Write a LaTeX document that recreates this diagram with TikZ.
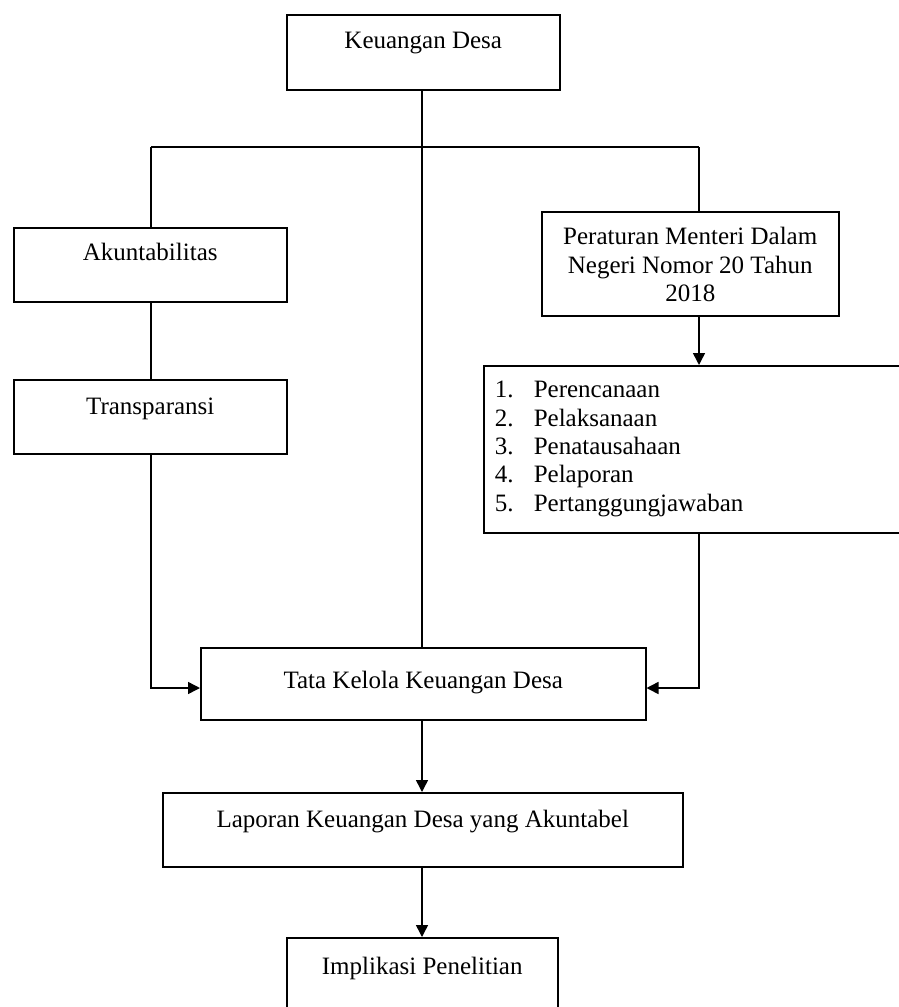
\documentclass[tikz,border=0pt]{standalone}
\usepackage{fontspec}
\setmainfont{Liberation Serif}
\usetikzlibrary{arrows.meta}
\newcommand{\boxtxt}[4]{\parbox[c][#2][t]{#1}{\centering\rule{0pt}{#3}#4}}
\newcommand{\itm}[2]{\hspace*{5.5pt}\makebox[19.5pt][l]{#1}#2}
\begin{document}
\begin{tikzpicture}[x=0.5pt,y=-0.5pt,
  box/.style={draw=black, line width=0.75pt, inner sep=0pt, anchor=north west,
    font=\fontsize{12.5}{14.2}\selectfont},
  conn/.style={draw=black, line width=0.75pt},
  arr/.style={conn, -{Triangle[length=6pt,width=6pt]}}]
\useasboundingbox (0,0) rectangle (899,1007);
\clip (0,0) rectangle (899,1007);
\fill[white] (0,0) rectangle (899,1007);
% boxes
\node[box] (kd) at (286,14) {\boxtxt{136.5pt}{37.5pt}{17pt}{Keuangan Desa}};
\node[box] (akun) at (13,227) {\boxtxt{136.5pt}{37pt}{16.5pt}{Akuntabilitas}};
\node[box] (trans) at (13,379) {\boxtxt{136.5pt}{37pt}{17.5pt}{Transparansi}};
\node[box] (per) at (541,211) {\boxtxt{148.5pt}{52pt}{16.5pt}{Peraturan Menteri Dalam\\Negeri Nomor 20 Tahun\\2018}};
\node[box] (list) at (483,365) {\parbox[c][83.5pt][t]{228.5pt}{\raggedright\rule{0pt}{16pt}%
  \itm{1.}{Perencanaan}\\
  \itm{2.}{Pelaksanaan}\\
  \itm{3.}{Penatausahaan}\\
  \itm{4.}{Pelaporan}\\
  \itm{5.}{Pertanggungjawaban}}};
\node[box] (tk) at (200,647) {\boxtxt{222.5pt}{36pt}{20.5pt}{Tata Kelola Keuangan Desa}};
\node[box] (lap) at (162,792) {\boxtxt{260pt}{37pt}{17.5pt}{Laporan Keuangan Desa yang Akuntabel}};
\node[box] (imp) at (286,937) {\boxtxt{135.5pt}{46.5pt}{18.5pt}{Implikasi Penelitian}};
% junction coordinates
\coordinate (C) at (422,147);
\coordinate (L) at (151,147);
\coordinate (R) at (699,147);
\coordinate (ay) at (0,688);
% connectors
\draw[conn] (C |- kd.south) -- (C |- tk.north);
\draw[conn] (L) -- (R);
\draw[conn] (L) -- (L |- akun.north);
\draw[conn] (R) -- (R |- per.north);
\draw[conn] (L |- akun.south) -- (L |- trans.north);
\draw[arr] (L |- trans.south) |- (tk.west |- ay);
\draw[arr] (R |- per.south) -- (R |- list.north);
\draw[arr] (R |- list.south) |- (tk.east |- ay);
\draw[arr] (C |- tk.south) -- (C |- lap.north);
\draw[arr] (C |- lap.south) -- (C |- imp.north);
\end{tikzpicture}
\end{document}
